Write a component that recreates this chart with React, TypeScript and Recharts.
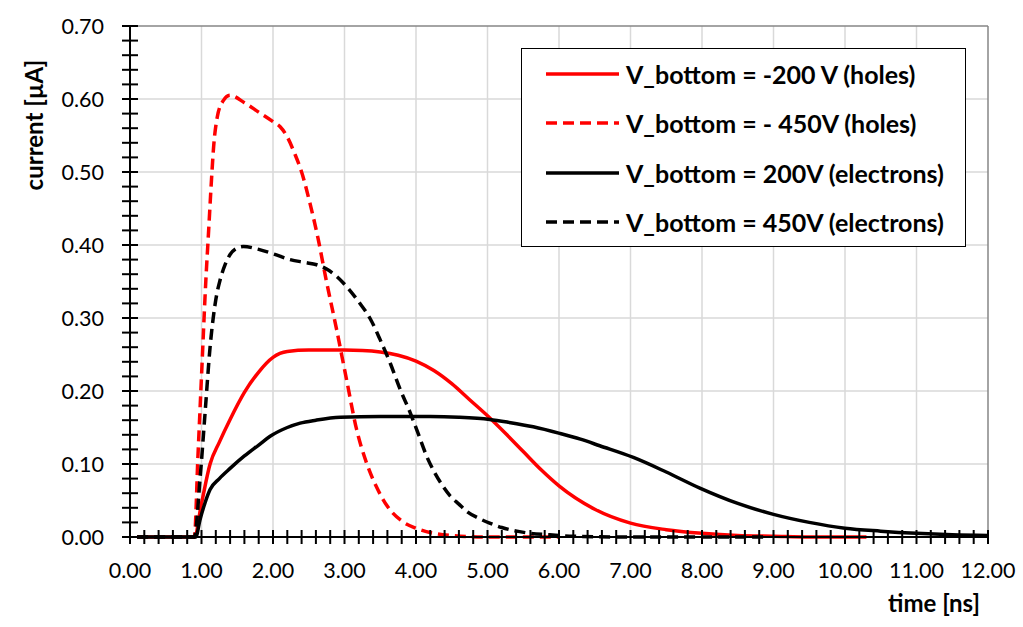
import {
	Legend,
	Line,
	LineChart,
	ReferenceLine,
	XAxis,
	YAxis,
} from "recharts"

// time [ns] and current [µA]
const tHoles200 = [0.1, 0.9, 1.0, 1.12, 1.25, 1.4, 1.6, 1.8, 2.0, 2.2, 2.5, 3.0, 3.25, 3.5, 3.75, 4.0, 4.25, 4.5, 4.75, 5.0, 5.25, 5.5, 5.75, 6.0, 6.5, 7.0, 7.5, 8.0, 8.5, 9.0, 9.5, 10.3]
const iHoles200 = [0, 0, 0.046, 0.1, 0.13, 0.161, 0.198, 0.226, 0.246, 0.254, 0.256, 0.256, 0.2555, 0.2535, 0.249, 0.241, 0.228, 0.21, 0.188, 0.166, 0.142, 0.117, 0.092, 0.07, 0.038, 0.019, 0.01, 0.005, 0.002, 0.001, 0, 0]

const tHoles450 = [0.1, 0.9, 0.95, 1.0, 1.06, 1.1, 1.14, 1.17, 1.22, 1.3, 1.4, 1.6, 1.8, 2.0, 2.1, 2.2, 2.3, 2.4, 2.52, 2.63, 2.74, 2.89, 3.03, 3.17, 3.31, 3.45, 3.6, 3.8, 4.0, 4.25, 4.5, 5.0, 6.0]
const iHoles450 = [0, 0, 0.11, 0.22, 0.35, 0.42, 0.49, 0.535, 0.575, 0.597, 0.605, 0.595, 0.582, 0.569, 0.562, 0.548, 0.526, 0.5, 0.456, 0.409, 0.354, 0.284, 0.215, 0.147, 0.101, 0.068, 0.042, 0.022, 0.012, 0.005, 0.002, 0, 0]

const tElectrons200 = [0.1, 0.92, 0.98, 1.05, 1.12, 1.25, 1.4, 1.6, 1.8, 1.96, 2.2, 2.38, 2.6, 2.94, 3.5, 4.2, 4.6, 5.03, 5.3, 5.64, 6.01, 6.3, 6.57, 7.04, 7.5, 7.97, 8.5, 9.0, 9.5, 10.0, 10.5, 11.0, 11.5, 12.0]
const iElectrons200 = [0, 0, 0.024, 0.047, 0.065, 0.08, 0.094, 0.111, 0.126, 0.138, 0.15, 0.156, 0.16, 0.164, 0.165, 0.165, 0.164, 0.161, 0.157, 0.151, 0.142, 0.134, 0.125, 0.109, 0.089, 0.067, 0.046, 0.031, 0.02, 0.012, 0.008, 0.005, 0.003, 0.002]

const tElectrons450 = [0.1, 0.9, 0.98, 1.05, 1.12, 1.2, 1.26, 1.33, 1.4, 1.5, 1.585, 1.8, 2.0, 2.24, 2.45, 2.61, 2.75, 2.89, 3.03, 3.2, 3.36, 3.5, 3.64, 3.78, 3.92, 4.01, 4.17, 4.24, 4.36, 4.48, 4.6, 4.71, 4.87, 5.03, 5.2, 5.41, 5.6, 5.87, 6.2, 7.0, 8.9]
const iElectrons450 = [0, 0, 0.08, 0.17, 0.26, 0.325, 0.352, 0.373, 0.387, 0.396, 0.398, 0.394, 0.388, 0.38, 0.376, 0.373, 0.367, 0.357, 0.343, 0.322, 0.299, 0.27, 0.238, 0.202, 0.17, 0.147, 0.106, 0.092, 0.072, 0.056, 0.045, 0.035, 0.026, 0.019, 0.013, 0.008, 0.005, 0.003, 0.001, 0, 0]

const seriesNames = [
	"V_bottom = -200 V (holes)",
	"V_bottom = - 450V (holes)",
	"V_bottom = 200V (electrons)",
	"V_bottom = 450V (electrons)",
]

const xMajor = [0, 1, 2, 3, 4, 5, 6, 7, 8, 9, 10, 11, 12]
const yMajor = [0, 0.1, 0.2, 0.3, 0.4, 0.5, 0.6, 0.7]

const zip = (t: number[], i: number[]) => t.map((v, k) => ({ t: v, i: i[k] }))

// 4 minor ticks between every pair of major ticks
const withMinor = (major: number[]) => {
	const out: number[] = []
	major.forEach((m, k) => {
		out.push(m)
		if (k < major.length - 1) {
			const step = (major[k + 1] - m) / 5
			for (let s = 1; s < 5; s++) out.push(Math.round((m + s * step) * 1000) / 1000)
		}
	})
	return out
}

const xTicks = withMinor(xMajor)
const yTicks = withMinor(yMajor)

const FONT = "Lato, 'Open Sans', sans-serif"
const LINE_W = 3.5
const DASH = "11 6"

const XTick = (props: any) => {
	const { x, y, payload } = props
	const isMajor = xMajor.includes(payload.value)
	return (
		<g>
			<line x1={x} x2={x} y1={y - 7} y2={y + 7} stroke="#000" strokeWidth={2} />
			{isMajor && (
				<text x={x} y={y + 41} textAnchor="middle" fontSize={21.5} fontFamily={FONT} fill="#000">
					{payload.value.toFixed(2)}
				</text>
			)}
		</g>
	)
}

const YTick = (props: any) => {
	const { x, y, payload } = props
	const isMajor = yMajor.includes(payload.value)
	return (
		<g>
			<line x1={x - 8} x2={x + 8} y1={y} y2={y} stroke="#000" strokeWidth={2} />
			{isMajor && (
				<text x={x - 26} y={y + 8} textAnchor="end" fontSize={21.5} fontFamily={FONT} fill="#000">
					{payload.value.toFixed(2)}
				</text>
			)}
		</g>
	)
}

const LegendBox = (props: any) => {
	const items = [...(props.payload || [])].sort(
		(a: any, b: any) => seriesNames.indexOf(a.value) - seriesNames.indexOf(b.value)
	)
	return (
		<div
			style={{
				boxSizing: "border-box",
				width: 445,
				height: 199,
				border: "1.5px solid #000",
				background: "#fff",
				fontFamily: FONT,
			}}
		>
			{items.map((entry: any) => (
				<div key={entry.value} style={{ display: "flex", alignItems: "center", height: 49.5 }}>
					<svg width={100} height={10} style={{ flex: "none" }}>
						<line
							x1={24}
							x2={97}
							y1={5}
							y2={5}
							stroke={entry.color}
							strokeWidth={LINE_W}
							strokeDasharray={entry.payload?.strokeDasharray}
						/>
					</svg>
					<span style={{ fontSize: 25, fontWeight: 700, marginLeft: 4, color: "#000", whiteSpace: "nowrap" }}>
						{entry.value}
					</span>
				</div>
			))}
		</div>
	)
}

export default function App() {
	return (
		<div style={{ position: "absolute", left: 0, top: 0, background: "#fff" }}>
			<LineChart width={1023} height={627} margin={{ top: 26, right: 35, bottom: 0, left: 0 }}>
				<XAxis
					type="number"
					dataKey="t"
					domain={[0, 12]}
					ticks={xTicks}
					interval={0}
					tickSize={0}
					tickMargin={0}
					tickLine={false}
					tick={<XTick />}
					axisLine={{ stroke: "#000", strokeWidth: 2 }}
					height={90}
					label={{
						value: "time [ns]",
						content: (p: any) => (
							<text
								x={p.viewBox.x + p.viewBox.width - 8}
								y={p.viewBox.y + 75}
								textAnchor="end"
								fontSize={24}
								fontWeight={700}
								fontFamily={FONT}
								fill="#000"
							>
								time [ns]
							</text>
						),
					}}
				/>
				<YAxis
					type="number"
					domain={[0, 0.7]}
					ticks={yTicks}
					interval={0}
					width={130}
					tickSize={0}
					tickMargin={0}
					tickLine={false}
					tick={<YTick />}
					axisLine={{ stroke: "#000", strokeWidth: 2 }}
					label={{
						value: "current [µA]",
						content: (p: any) => (
							<text
								transform={`translate(43, ${p.viewBox.y + 99}) rotate(-90)`}
								textAnchor="middle"
								fontSize={24}
								fontWeight={700}
								fontFamily={FONT}
								fill="#000"
							>
								current [µA]
							</text>
						),
					}}
				/>
				{xMajor.slice(1, -1).map((v) => (
					<ReferenceLine key={"gx" + v} x={v} stroke="#d9d9d9" strokeWidth={1.5} />
				))}
				{yMajor.slice(1, -1).map((v) => (
					<ReferenceLine key={"gy" + v} y={v} stroke="#d9d9d9" strokeWidth={1.5} />
				))}
				<ReferenceLine y={0.7} stroke="#868686" strokeWidth={1.5} />
				<ReferenceLine x={12} stroke="#868686" strokeWidth={1.5} />
				<Legend
					layout="vertical"
					align="center"
					verticalAlign="middle"
					wrapperStyle={{ left: 521, top: 48, width: 445, height: 199 }}
					content={<LegendBox />}
				/>
				<Line
					data={zip(tHoles200, iHoles200)}
					dataKey="i"
					name={seriesNames[0]}
					type="monotone"
					stroke="#ff0000"
					strokeWidth={LINE_W}
					dot={false}
					isAnimationActive={false}
				/>
				<Line
					data={zip(tHoles450, iHoles450)}
					dataKey="i"
					name={seriesNames[1]}
					type="monotone"
					stroke="#ff0000"
					strokeWidth={LINE_W}
					strokeDasharray={DASH}
					dot={false}
					isAnimationActive={false}
				/>
				<Line
					data={zip(tElectrons200, iElectrons200)}
					dataKey="i"
					name={seriesNames[2]}
					type="monotone"
					stroke="#000000"
					strokeWidth={LINE_W}
					dot={false}
					isAnimationActive={false}
				/>
				<Line
					data={zip(tElectrons450, iElectrons450)}
					dataKey="i"
					name={seriesNames[3]}
					type="monotone"
					stroke="#000000"
					strokeWidth={LINE_W}
					strokeDasharray={DASH}
					dot={false}
					isAnimationActive={false}
				/>
			</LineChart>
		</div>
	)
}
